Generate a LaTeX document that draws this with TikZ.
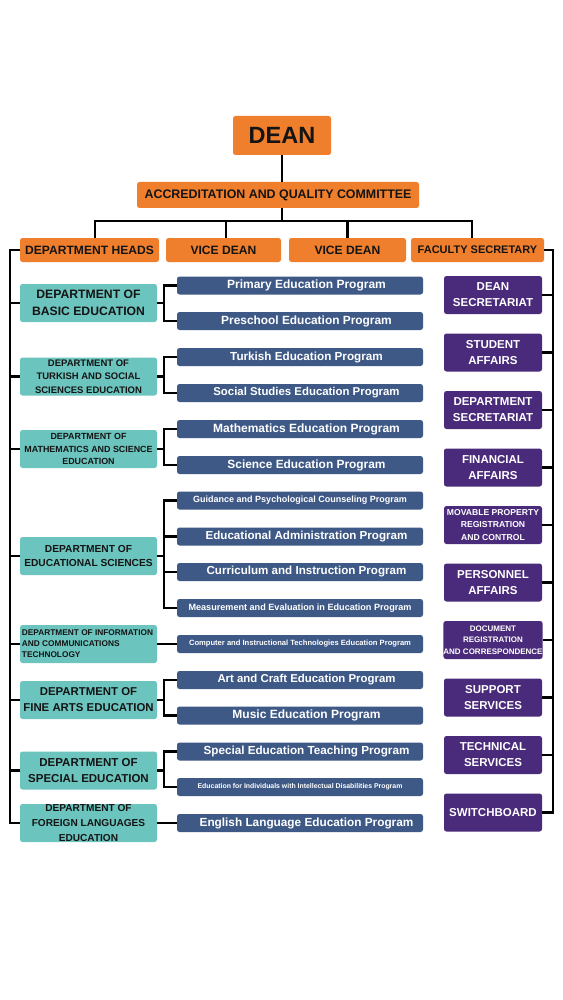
\documentclass[tikz,border=0pt]{standalone}
\usepackage{fontspec}
\setmainfont{Liberation Sans}
\usetikzlibrary{calc}
\definecolor{cOrange}{RGB}{239,127,44}
\definecolor{cTeal}{RGB}{108,196,190}
\definecolor{cBlue}{RGB}{62,89,134}
\definecolor{cPurple}{RGB}{74,42,122}
\definecolor{cInk}{RGB}{20,20,20}
\newcommand\fz[2]{\fontsize{#1}{#2}\selectfont}
\newcommand\rs{\hspace*{13pt}}
\begin{document}
\begin{tikzpicture}[x=1pt,y=-1pt,
  base/.style={rectangle, rounded corners=2.5pt, inner sep=0pt, align=center},
  orangebox/.style={base, fill=cOrange, text=cInk},
  rowbox/.style={orangebox, minimum height=24pt, font=\bfseries\fz{12.1}{14}},
  tealbox/.style={base, fill=cTeal, text=cInk, minimum width=137pt, minimum height=38pt},
  progbox/.style={base, fill=cBlue, text=white, minimum width=246pt, minimum height=18pt},
  purplebox/.style={base, fill=cPurple, text=white, minimum width=98pt, minimum height=38pt},
  link/.style={draw=black, line width=2.2pt}]
\fill[white] (0,0) rectangle (562,1000);
\useasboundingbox (0,0) rectangle (562,1000);

% top
\node[orangebox, minimum width=98pt, minimum height=39pt, font=\bfseries\fz{23.5}{26}] (dean) at (282,135.5) {DEAN};
\node[orangebox, minimum width=282pt, minimum height=26pt, font=\bfseries\fz{12.4}{14}] (aqc) at (278,195) {ACCREDITATION AND QUALITY COMMITTEE};

\node[rowbox, minimum width=139pt] (dh) at (89.5,250) {DEPARTMENT HEADS};
\node[rowbox, minimum width=115pt] (vd1) at (223.5,250) {VICE DEAN};
\node[rowbox, minimum width=117pt] (vd2) at (347.5,250) {VICE DEAN};
\node[rowbox, minimum width=133pt, font=\bfseries\fz{11}{13}] (fs) at (477.5,250) {FACULTY SECRETARY};

% departments
\node[tealbox, font=\bfseries\fz{12.2}{17}] (basic) at (88.5,303) {DEPARTMENT OF\\BASIC EDUCATION};
\node[tealbox, font=\bfseries\fz{9.5}{13.3}] (turk) at (88.5,376.5) {DEPARTMENT OF\\TURKISH AND SOCIAL\\SCIENCES EDUCATION};
\node[tealbox, font=\bfseries\fz{8.9}{12.7}] (math) at (88.5,449) {DEPARTMENT OF\\MATHEMATICS AND SCIENCE\\EDUCATION};
\node[tealbox, font=\bfseries\fz{10.2}{14.7}] (edsci) at (88.5,556) {DEPARTMENT OF\\EDUCATIONAL SCIENCES};
\node[tealbox, font=\bfseries\fz{8.3}{11.1}] (ict) at (88.5,644) {\begin{tabular}{@{}l@{}}DEPARTMENT OF INFORMATION\\AND COMMUNICATIONS\\TECHNOLOGY\end{tabular}\hspace*{2pt}};
\node[tealbox, font=\bfseries\fz{11.4}{16}] (fine) at (88.5,700) {DEPARTMENT OF\\FINE ARTS EDUCATION};
\node[tealbox, font=\bfseries\fz{11.5}{16.5}] (spec) at (88.5,770.5) {DEPARTMENT OF\\SPECIAL EDUCATION};
\node[tealbox, font=\bfseries\fz{10.1}{15}] (fl) at (88.5,823) {DEPARTMENT OF\\FOREIGN LANGUAGES\\EDUCATION};

% programs
\node[progbox, font=\bfseries\fz{12}{14}] (p1) at (300,285.5) {\rs Primary Education Program};
\node[progbox, font=\bfseries\fz{11.9}{14}] (p2) at (300,321) {\rs Preschool Education Program};
\node[progbox, font=\bfseries\fz{11.7}{14}] (p3) at (300,357) {\rs Turkish Education Program};
\node[progbox, font=\bfseries\fz{11.4}{14}] (p4) at (300,393) {\rs Social Studies Education Program};
\node[progbox, font=\bfseries\fz{12}{14}] (p5) at (300,429) {\rs Mathematics Education Program};
\node[progbox, font=\bfseries\fz{11.9}{14}] (p6) at (300,465) {\rs Science Education Program};
\node[progbox, font=\bfseries\fz{9}{11}] (p7) at (300,500.5) {Guidance and Psychological Counseling Program};
\node[progbox, font=\bfseries\fz{11.6}{14}] (p8) at (300,536.5) {\rs Educational Administration Program};
\node[progbox, font=\bfseries\fz{11.6}{14}] (p9) at (300,572) {\rs Curriculum and Instruction Program};
\node[progbox, font=\bfseries\fz{9.1}{11}] (p10) at (300,608) {Measurement and Evaluation in Education Program};
\node[progbox, font=\bfseries\fz{7.6}{9}] (p11) at (300,644) {Computer and Instructional Technologies Education Program};
\node[progbox, font=\bfseries\fz{11.4}{14}] (p12) at (300,680) {\rs Art and Craft Education Program};
\node[progbox, font=\bfseries\fz{12}{14}] (p13) at (300,715.5) {\rs Music Education Program};
\node[progbox, font=\bfseries\fz{11.7}{14}] (p14) at (300,751.5) {\rs Special Education Teaching Program};
\node[progbox, font=\bfseries\fz{6.9}{8}] (p15) at (300,787) {Education for Individuals with Intellectual Disabilities Program};
\node[progbox, font=\bfseries\fz{11.8}{14}] (p16) at (300,823) {\rs English Language Education Program};

% secretariat units
\node[purplebox, font=\bfseries\fz{11.5}{16}] (u1) at (493,295) {DEAN\\SECRETARIAT};
\node[purplebox, font=\bfseries\fz{11.5}{16}] (u2) at (493,352.5) {STUDENT\\AFFAIRS};
\node[purplebox, font=\bfseries\fz{11.5}{16}] (u3) at (493,410) {DEPARTMENT\\SECRETARIAT};
\node[purplebox, font=\bfseries\fz{11.5}{16}] (u4) at (493,467.5) {FINANCIAL\\AFFAIRS};
\node[purplebox, font=\bfseries\fz{8.6}{12.3}] (u5) at (493,525) {MOVABLE PROPERTY\\REGISTRATION\\AND CONTROL};
\node[purplebox, font=\bfseries\fz{11.5}{16}] (u6) at (493,582.5) {PERSONNEL\\AFFAIRS};
\node[purplebox, font=\bfseries\fz{8}{11.5}] (u7) at (493,640) {DOCUMENT\\REGISTRATION\\AND CORRESPONDENCE};
\node[purplebox, font=\bfseries\fz{11.5}{16}] (u8) at (493,697.5) {SUPPORT\\SERVICES};
\node[purplebox, font=\bfseries\fz{11.5}{16}] (u9) at (493,755) {TECHNICAL\\SERVICES};
\node[purplebox, font=\bfseries\fz{11.5}{16}] (u10) at (493,812.5) {SWITCHBOARD};

% connectors: top
\draw[link] (dean.south) -- (dean.south |- aqc.north);
\draw[link] (aqc.south -| dean.south) -- ++(0,13) coordinate (bus);
\draw[link] ([xshift=5.5pt]dh.north) |- (bus);
\draw[link] ([xshift=2.5pt]vd1.north) |- (bus);
\draw[link] (vd2.north) |- (bus);
\draw[link] ([xshift=-5.5pt]fs.north) |- (bus);

% left trunk
\draw[link] (dh.west) -- ++(-10,0) coordinate (lt) -- (lt |- fl.west) -- (fl.west);
\foreach \d in {basic,turk,math,edsci,ict,fine,spec}{
  \draw[link] (\d.west) -- (\d.west -| lt);
}

% right trunk
\draw[link] (fs.east) -- ++(9,0) coordinate (rt) -- (rt |- u10.east) -- (u10.east);
\foreach \u in {u1,u2,u3,u4,u5,u6,u7,u8,u9}{
  \draw[link] (\u.east) -- (\u.east -| rt);
}

% department brackets
\foreach \d/\a/\b in {basic/p1/p2, turk/p3/p4, math/p5/p6, edsci/p7/p10, fine/p12/p13, spec/p14/p15}{
  \draw[link] (\d.east) -- ++(7,0) coordinate (j);
  \draw[link] (\a.west) -- (\a.west -| j) -- (\b.west -| j) -- (\b.west);
}
\draw[link] (edsci.east) -- ++(7,0) coordinate (je);
\draw[link] (p8.west) -- (p8.west -| je);
\draw[link] (p9.west) -- (p9.west -| je);
\draw[link] (ict.east) -- (p11.west);
\draw[link] (fl.east) -- (p16.west);
\end{tikzpicture}
\end{document}
